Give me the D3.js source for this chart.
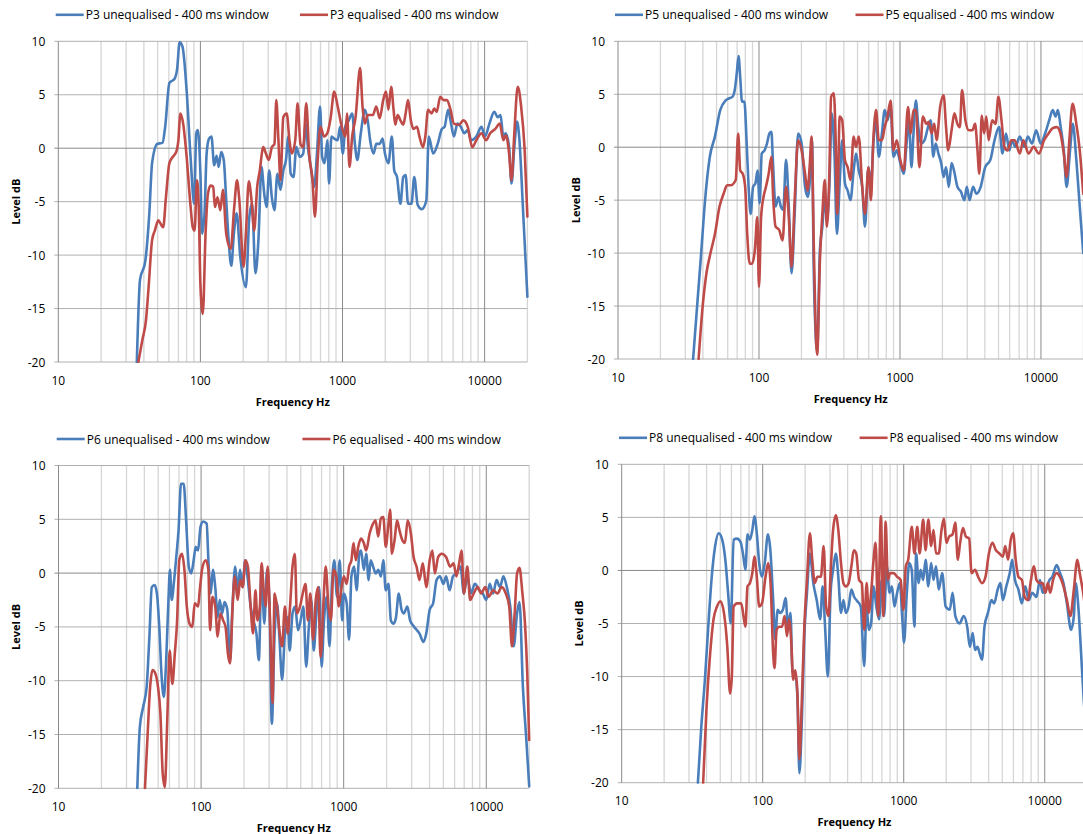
<!DOCTYPE html>
<html><head><meta charset="utf-8">
<script src="https://cdn.jsdelivr.net/npm/d3@7"></script>
<style>
body{margin:0;background:#fff}
svg{display:block}
text{font-family:'Open Sans',sans-serif;fill:#000}
</style>
</head><body>
<svg id="chart" width="1083" height="834"></svg>
<script>
// ---------- tick labels ----------
const xTickValues = [10, 100, 1000, 10000];
const yTickValues = [10, 5, 0, -5, -10, -15, -20];
const xAxisTitle = "Frequency Hz";
const yAxisTitle = "Level dB";

// ---------- series names ----------
const seriesNames = [
  ["P3 unequalised - 400 ms window", "P3 equalised - 400 ms window"],
  ["P5 unequalised - 400 ms window", "P5 equalised - 400 ms window"],
  ["P6 unequalised - 400 ms window", "P6 equalised - 400 ms window"],
  ["P8 unequalised - 400 ms window", "P8 equalised - 400 ms window"]
];

// ---------- data: [frequency Hz, level dB] ----------
const p3Unequalised = [[35.7,-20],[37.6,-12.3],[40.9,-10.6],[43.7,-6.1],[45.7,-1.4],[49.7,0.4],[54.1,0.5],[56.5,2.0],[60.5,6.1],[65.8,6.5],[68.4,7.3],[71.5,9.9],[74.8,9.5],[80,5.4],[85.5,-1.1],[90.4,-5.2],[93.5,1.4],[96.1,1.7],[100,-2.4],[102.8,-8],[106.9,-6.1],[110.6,-0.5],[115,0.9],[119.6,1.1],[125,-1.6],[130,-0.7],[134.5,-1.75],[140,-0.35],[146,-1.1],[152,-4.9],[158,-8.6],[165,-11],[172,-8],[180,-6.1],[190,-9.9],[209,-13],[221,-6.4],[231,-5.2],[244,-11.7],[256,-8.6],[269,-1.75],[281,-4.2],[292,-5.5],[305,-2.1],[318,-4.6],[332,-5.8],[348,-2.4],[366,-3.9],[383,-2.1],[400,-1.1],[416,1.1],[432,-2.4],[452,-2.7],[473,0.1],[500,-0.8],[529,-0.5],[550,2.3],[571,0.1],[598,-1.75],[632,-3.6],[661,-0.5],[695,3.9],[719,-0.8],[748,-1.4],[782,0.75],[804,-3.3],[836,1.1],[874,0.9],[925,0.75],[961,2],[1005,-0.5],[1045,2],[1106,2.6],[1170,3.25],[1222,0.4],[1271,-1.1],[1345,1.4],[1438,3.6],[1504,2.6],[1564,0.75],[1653,-0.5],[1728,0.4],[1828,0.4],[1913,0.9],[1989,-0.5],[2103,-1.4],[2224,1.1],[2313,-2.1],[2418,-2.7],[2556,-5.2],[2674,-2.7],[2780,-2.5],[2891,-5.2],[3057,-5.2],[3198,-2.7],[3381,-5.3],[3614,-5.7],[3888,-4.9],[4043,1.1],[4345,-0.5],[4675,0.4],[5000,1.8],[5228,2],[5532,3.6],[5753,2.6],[6083,1.1],[6433,2.3],[6802,2],[7193,1.4],[7606,1.7],[8043,0.75],[8745,1.1],[9508,2],[10050,1.1],[10810,2.3],[11690,3.4],[12360,2.9],[12940,3.1],[13530,1.1],[14070,1.4],[14870,0.1],[15460,-3.3],[16180,0.1],[16910,2.5],[17580,0.75],[18590,-5.5],[20000,-13.9]];
const p3Equalised = [[36.6,-20],[39.1,-17.9],[41.4,-16.1],[43.2,-13],[45.7,-8.6],[47.8,-7.7],[50.6,-6.75],[52.6,-7.1],[54.7,-7.4],[57.2,-4.6],[60.5,-1.4],[64,-0.8],[67.6,-0.35],[70,0.75],[72.3,3.25],[75.6,2.3],[80,-0.8],[84.6,-4.9],[88.4,-7.4],[91,-7.7],[94.6,-3],[97.3,-5.5],[100,-12.7],[104,-15.5],[108.7,-8],[113,-4.25],[118,-3.5],[123,-3.6],[126.5,-5.5],[132,-4.6],[138,-5.8],[144,-3.9],[152,-8],[163.5,-9.4],[173,-5.5],[181,-3],[188,-4.9],[201,-11.1],[209,-8],[219,-3.1],[229,-4.9],[239,-7.7],[251,-3.6],[261,-2.2],[277,0.1],[289,-0.5],[303,-1.1],[318,0.1],[332,0.4],[342,4.5],[354,0.75],[366,-3],[383,2.9],[405,3.25],[423,0.75],[440,-0.5],[465,0.75],[483,4.2],[506,0.4],[529,0.1],[556,4.2],[582,-0.5],[615,-3],[640,-6.4],[669,-1.1],[700,2],[740,1.1],[782,1.4],[826,2.9],[874,5.3],[925,3.9],[989,2],[1045,1.1],[1076,3.25],[1119,-1.75],[1170,1.1],[1236,2.9],[1330,7.5],[1383,3.9],[1438,2.3],[1504,3.1],[1636,3.1],[1728,3.9],[1828,2.8],[1933,4.5],[2023,5.3],[2103,3.6],[2200,5.75],[2287,3.6],[2351,2.2],[2445,3.1],[2556,2.6],[2674,2.2],[2780,3.25],[2891,4.5],[3026,2.6],[3162,1.8],[3343,2],[3477,1.1],[3680,0.1],[3826,1.1],[4000,3.6],[4230,3.25],[4426,3.7],[4603,3.4],[4866,4.8],[5144,4.5],[5438,4.5],[5753,3.6],[6083,2.3],[6607,2.2],[7079,2.6],[7606,2],[8185,0.1],[8745,0.75],[9508,1.4],[10230,0.75],[10940,1.4],[11890,1.8],[12790,2.3],[13530,0.75],[14130,1.2],[14870,-0.5],[15460,-3],[16180,1.4],[17100,5.75],[18070,3.9],[19140,-0.2],[20000,-6.4]];

const p5Unequalised = [[34.1,-20],[36.7,-14.4],[38.9,-10],[41.1,-5.6],[44.8,-0.9],[48.7,1],[53.1,3.5],[57.8,4.4],[61.1,4.6],[64.7,4.75],[67.3,5.4],[69.6,7],[71.6,8.6],[73.6,6.6],[75.8,4.3],[78.8,4.3],[81.6,0.66],[84.4,-3.75],[87.3,-6.3],[90.8,-3.75],[94.4,-3.4],[97.7,-2.2],[101.1,-5.3],[104.6,-0.6],[109.5,-0.3],[114,0.35],[118.6,1.3],[122.5,1.45],[125.4,-1.2],[131.2,-5.6],[137.3,-4.7],[142.9,-5.6],[148.6,-5.9],[155.6,-1.2],[162.7,-5.6],[170.3,-11.9],[179.1,-6.3],[189.5,1.3],[200.6,0.35],[212.2,-3.75],[222,-4.7],[231,-2.5],[237.6,0.66],[244.4,-11.3],[251,-17],[258.6,-19.2],[270.5,-9.7],[281.5,-7.5],[293,-4.7],[303,-6.9],[315.6,-3.75],[328,3.2],[343,-0.6],[357,-8.2],[373.6,-3.4],[389,0.66],[407,-3.4],[425.6,-4.1],[445.6,-5],[469,-2.2],[487.8,-0.6],[510.4,-2.2],[540,-3.75],[564.6,-7.5],[597.5,-1.9],[622,-3.75],[647,0.35],[676.6,2.55],[707.6,-0.9],[744.7,1.3],[779.3,3.5],[816,2.55],[859,3.8],[898,-0.9],[950,-0.3],[1005,-1.5],[1064,-2.5],[1114,0.35],[1159,2.55],[1206,-1.9],[1247,1.3],[1297,4.4],[1349,1.9],[1412,0.35],[1494,0.66],[1581,1.9],[1654,2.55],[1722,-0.9],[1791,0.35],[1874,-0.6],[1960,-1.5],[2041,-2.8],[2123,-1.9],[2220,-3.75],[2323,-1.5],[2416,-2.2],[2556,-3.75],[2706,-4.2],[2864,-5],[2979,-3.75],[3117,-5],[3298,-3.75],[3490,-4.4],[3735,-3.75],[4018,-1.9],[4375,-1.2],[4686,0.66],[5044,1.9],[5337,-0.6],[5648,1.3],[5972,-0.3],[6223,0.66],[6579,0.03],[7079,1],[7621,0.03],[8072,1],[8637,0.35],[9247,1.6],[9954,0.35],[10700,1.3],[11450,2.55],[12130,3.5],[12690,2.9],[13190,3.5],[13800,1.9],[14520,-0.3],[15200,-3.75],[16080,-0.3],[16830,2.2],[17820,-1.2],[18840,-5.6],[19950,-10]];
const p5Equalised = [[37.3,-20],[40,-14.8],[42.4,-11.9],[45.3,-10],[48.7,-8.2],[52.5,-5.6],[56.1,-4.4],[59.4,-3.6],[62.9,-3.6],[68.4,-3.1],[71.2,1.3],[73.6,-2.2],[76.7,-2.5],[79.8,-3.75],[82.5,-8.2],[85.9,-11],[89.4,-11],[93.5,-9.7],[97.3,-6.6],[100,-13.2],[103.5,-6.6],[107.7,-4.7],[112,-3.75],[117.2,-2.5],[122.5,-0.9],[126,-4.7],[131.2,-7.5],[139,-7.8],[147,-8.8],[155.6,-3.75],[162.7,-6.6],[170.3,-11.3],[179.1,-5],[189.5,0.66],[200.6,-0.3],[212.2,-2.5],[220.8,-4.1],[228.6,-1.9],[236,1],[244.4,-8.8],[251,-16],[258.6,-19.6],[270.5,-10.7],[281.5,-6.3],[293,-3.1],[303,-7.5],[315.6,-2.5],[324.6,4.75],[339.6,5.1],[349,1.3],[359,-6.3],[373.6,2.9],[389,2.55],[407,-1.2],[425.6,-1.9],[445.6,-3.1],[469,1],[487.8,0.03],[510.4,1],[540,-3.75],[564.6,-6.3],[597.5,-1.9],[622,-5],[647,0.66],[676.6,3.5],[707.6,0.66],[744.7,0.66],[779.3,1.9],[816,2.9],[859,4.4],[898,-0.3],[950,0.66],[1005,-1.2],[1064,-2.2],[1140,3.8],[1191,1.3],[1247,3.5],[1297,3.5],[1374,-1.9],[1453,2.9],[1538,2.2],[1600,2.4],[1675,1.3],[1750,2.2],[1820,0.66],[1927,3.8],[2041,4.9],[2123,1.9],[2198,-0.3],[2323,1.6],[2432,3.2],[2556,2.2],[2661,1.9],[2754,5.4],[2911,2.55],[3083,1.6],[3265,1.6],[3412,2.2],[3532,0.03],[3656,-2.5],[3802,3],[3954,1.3],[4093,2.9],[4257,0.66],[4506,2.55],[4767,2.2],[4989,4.75],[5248,2.55],[5495,0.03],[5808,-0.3],[6152,0.66],[6506,0.66],[7079,-0.6],[7500,0.66],[8166,-0.6],[8872,0.03],[9660,-0.6],[10520,0.66],[11320,1.3],[12130,1.8],[12970,1.9],[13740,1.3],[14520,-0.6],[15200,-2.8],[15900,0.66],[16750,4.1],[17820,2.2],[18840,-0.3],[19950,-4.4]];

const p6Unequalised = [[35.7,-20],[37.2,-14.3],[39.3,-12.4],[41.5,-10.6],[43.4,-5.9],[45.1,-1.3],[47.2,-1.1],[49,-1.9],[50.9,-5],[52.7,-9.3],[54.8,-11.5],[56.9,-8.1],[58.9,-2.8],[60.5,0.3],[62.2,-2.5],[64.7,-0.65],[67.3,1.8],[69.5,4],[72.3,8.3],[75.5,8.3],[78.5,4.9],[82,0.6],[85.3,-0.03],[88.7,1.2],[91.7,2.45],[95.3,2.1],[99.1,4.3],[103.5,4.8],[109.4,4.6],[112.5,1.2],[116.9,-1.9],[120.9,0.3],[125.7,-1.3],[130.6,-4.1],[135.1,-2.5],[140.4,-3.75],[145.9,-2.7],[152.6,-3.4],[159.6,-8.1],[166,-3.1],[173.5,0.6],[180.3,-1.6],[187.5,0.3],[195.8,-1.3],[203.6,1.2],[212.9,-0.65],[222.5,-3.1],[232.5,-4.4],[244.3,-5.6],[254.1,-8.1],[265.6,0.6],[277.5,-4.7],[290.2,0.3],[301.6,-2.8],[313.4,-14],[327.8,-5.6],[340.8,-2.8],[354,-5.9],[370,-9.9],[387,-5.6],[404.5,-4.1],[418,-7.2],[437.5,-3.75],[457,-3.1],[478,-5.3],[499,-4.4],[522,-3.1],[545.5,-8.7],[570,-5],[593,-2.5],[616,-7.2],[644,-3.75],[673.6,-1.3],[700,-8.7],[727.6,-4.4],[760.6,-2.2],[795,-6.8],[826,-1.3],[859,1.2],[898,-2.2],[939,1.2],[975.6,-4.4],[1003,-1.9],[1050,-2.8],[1091,-6.2],[1133,-0.3],[1185,0.6],[1231,-1.6],[1288,1.8],[1324,2.1],[1384,0.3],[1439,1.8],[1496,-0.65],[1546,1.2],[1608,0.6],[1680,-0.03],[1746,0.3],[1825,-0.3],[1897,1.2],[1972,-1.6],[2061,-1],[2142,-4.4],[2240,-4.7],[2328,-4.1],[2434,-1.9],[2546,-3.4],[2644,-3.75],[2794,-3.1],[2923,-4.4],[3124,-5],[3397,-5.6],[3632,-6.4],[3796,-5.6],[4011,-3.4],[4240,-2.8],[4480,-0.65],[4735,-0.3],[5003,-1],[5228,-0.3],[5524,-1.6],[5840,-0.3],[6170,-0.03],[6590,0.6],[6966,-1.9],[7362,-0.3],[7796,-1.9],[8322,-1],[8950,-1.6],[9460,-1.9],[10000,-2.5],[10570,-1],[11170,-1.9],[11800,-0.65],[12480,-1.3],[13190,-0.3],[13930,-1.3],[14730,-3.1],[15560,-6.8],[16440,-3.75],[17100,-2.7],[18070,-10.6],[19100,-15.5],[20000,-19.8]];
const p6Equalised = [[40.4,-20],[42.2,-14.9],[43.9,-10.6],[45.6,-9],[47.7,-9.3],[49.9,-10.6],[51.8,-13],[53.8,-18.6],[55.7,-19.9],[57.9,-13.7],[60.2,-7.2],[62.9,-10.3],[65.4,-7.5],[67.9,-4.4],[70.3,1.2],[73.5,1.8],[76.4,0.3],[79.4,-3.1],[83,-4.7],[86.8,-5],[90.2,-2.8],[95.3,-3.1],[97.9,-1.6],[102.4,0.6],[108.2,1.2],[112.5,0.3],[115.6,-5.3],[120.2,-2.2],[125.7,-3.1],[130.6,-5.9],[136.5,-3.75],[142.8,-4.4],[148.5,-5],[154.3,-7.5],[159.6,-8.4],[166,-3.4],[172.3,-0.3],[180.3,-2.5],[188.4,-0.65],[195.8,-1.3],[204.6,1.2],[212.9,0.6],[222.5,-3.1],[231.4,-5.6],[240.6,-1.6],[248.5,-4.4],[258.4,-3.1],[265.6,0.9],[274.8,-1.6],[283.9,-3.1],[293.4,0.6],[304.8,-4.7],[316.9,-12.1],[327.8,-1.9],[340.8,-3.1],[354,-5.3],[370,-6.8],[387,-3.1],[404.5,-5.6],[420.7,-3.1],[437.5,0.6],[454.4,1.8],[469.5,-3.75],[494,-3.1],[516.4,-1.9],[540,-1],[561,-4.4],[583.6,-1.9],[610,-6.2],[637,-2.5],[662,-1.3],[688.5,-7.8],[719,-3.1],[748,0.6],[782,-3.1],[813,-4.4],[849,0.3],[888,-0.3],[923,-3.1],[960,-1.6],[1003,-0.3],[1050,-1],[1091,0.6],[1133,1.2],[1172,2.8],[1218,1.2],[1265,2.45],[1324,3.2],[1384,2.8],[1439,2.1],[1521,3.7],[1608,4.6],[1671,4.9],[1746,3.4],[1825,5.1],[1897,5.2],[1972,2.45],[2061,4.6],[2118,5.9],[2177,1.8],[2276,3.1],[2366,4.9],[2460,4],[2572,3.1],[2689,2.8],[2811,4.9],[2958,3.7],[3092,1.5],[3246,0.6],[3397,-0.65],[3589,0.9],[3796,-1.3],[4011,1.2],[4190,2.1],[4355,-0.03],[4603,1.5],[4866,1.8],[5228,1.5],[5585,0.6],[5902,0.9],[6170,-0.3],[6450,0.9],[6714,2.1],[6966,-1.9],[7362,0.6],[7707,-2.5],[8147,-1.9],[8710,-1.3],[9204,-1.9],[9840,-1.3],[10400,-2.2],[11170,-1.6],[11990,-1.9],[12830,-1.3],[13710,-1.9],[14490,-3.1],[15140,-6.8],[15820,-3.75],[16440,-0.03],[17100,0.5],[17900,-1.8],[18670,-4.6],[19380,-9.3],[20000,-15.5]];

const p8Unequalised = [[34.7,-20],[36.7,-14.7],[38.9,-10.3],[41.1,-5.3],[43.5,-0.6],[46,2.3],[48.7,3.5],[51.6,2.9],[54.6,0.7],[56.8,-2.1],[59.4,-5],[62.2,2.9],[65.8,3],[69.6,2.7],[72.4,1.6],[75.4,0.06],[78,3.4],[81.1,2.9],[84.4,3.8],[87.3,5.1],[90.8,3.5],[94.4,0.7],[98.8,-0.6],[103.4,0.7],[108.9,3.4],[113.3,1.9],[118.6,-2.8],[122.5,-6.5],[127.6,-3.7],[132.7,-4],[139,-3.7],[145.3,-2.6],[151.1,-5.3],[157.4,-4],[162.7,-9.6],[169.4,-9.6],[176.2,-11.9],[182,-19.1],[189.5,-14.1],[197.2,-6.2],[206,-2.1],[216,1.6],[228.4,-1.2],[241.6,-2.8],[255.6,-4.6],[266,-1.5],[276.8,-5.3],[289.6,-10],[303,-2.1],[315.5,0.06],[330,1.6],[343.6,-0.6],[359,-4],[373.5,-2.8],[388.8,-4],[406.6,-3.4],[425.4,-1.8],[445.4,-2.5],[468.8,-2.9],[495.6,-3.4],[524.5,-9],[545.5,-3.4],[564.6,-5.6],[587.2,-5],[611,-1.5],[639.6,-3.4],[669.4,-4.6],[696.6,-0.9],[724.4,-4.3],[758.6,0.4],[793,-2.1],[824.5,-1.5],[859,-3.4],[898,-2.1],[939,-1.2],[977,-4.6],[1005,-6.8],[1052,-2.1],[1094,0.7],[1140,0.06],[1191,-5.3],[1225,1.6],[1276,-1.2],[1318,0.06],[1374,-0.9],[1429,1],[1494,-1.5],[1564,0.7],[1626,-0.9],[1694,0.4],[1771,-1.8],[1874,-0.25],[1983,-3.4],[2123,-3.7],[2220,-2.1],[2323,-4.3],[2489,-5],[2661,-4.3],[2818,-5.3],[2944,-7.2],[3083,-5.9],[3206,-7.5],[3336,-7.2],[3451,-7.8],[3592,-8.4],[3738,-5.3],[3954,-4],[4188,-2.8],[4380,-3.1],[4635,-1.8],[4850,-1.2],[5044,-2.8],[5337,-1.5],[5648,-0.25],[5875,1],[6150,-0.9],[6506,-1.8],[6887,-3.1],[7278,-1.5],[7707,-2.8],[8147,-2.1],[8730,-2.5],[9247,-0.9],[9660,-2.1],[10230,-1.8],[10820,-0.9],[11320,-0.6],[12130,0.5],[12830,-0.25],[13580,-1.2],[14350,-3.1],[15380,-5.6],[16080,-4.3],[16560,-1.2],[17300,-3.4],[18000,-7.2],[18840,-11.9],[20000,-16]];
const p8Equalised = [[37.8,-20],[40,-12.8],[42.4,-7.8],[44.8,-4.6],[47.4,-3.4],[50.1,-2.9],[53.1,-4],[56.1,-7.2],[58.7,-11.6],[60.4,-10],[62.2,-3.4],[65.8,-3.1],[70.4,-3.1],[73.6,-4.6],[75.4,-5.3],[78,-1.5],[81.1,-1.2],[84.4,-0.25],[87.3,1.3],[90.8,-0.6],[94.4,-3.4],[98.8,-3.1],[104.7,-0.6],[109.4,0.7],[114,-1.5],[118.6,-7.8],[121.3,-9.2],[125.4,-5.6],[131.2,-5.3],[137.3,-5.3],[142.9,-4.3],[148.6,-6.2],[153.8,-4.6],[159,-6.5],[164.4,-10.3],[170.3,-9.4],[176.2,-11.6],[182,-17.8],[189.5,-12.2],[197.2,-5.3],[206,-0.9],[216,3.5],[224.5,1],[233.7,-1.2],[244.4,-0.6],[258.6,-0.6],[270.5,2.3],[281.5,-3.4],[293,-4.3],[303,-0.25],[315.5,3.8],[330,5.2],[343.6,3.8],[359,0.7],[373.5,-1.2],[388.8,-1.5],[406.6,-1.2],[425.4,0.4],[442.6,1.9],[460.4,1.6],[482,-0.9],[504.6,-1.2],[524.5,-5.6],[545.5,-1.2],[564.6,-4],[587.2,-2.1],[611,1],[632,2.6],[657.6,-4.3],[688.6,5.1],[716,-4.3],[744.7,4.6],[770.8,-0.9],[802,-0.25],[849,-0.25],[898,-0.6],[950,-0.9],[995,-3.7],[1035,0.4],[1076,1],[1140,4.1],[1191,1.6],[1247,4.1],[1297,1.6],[1374,4.8],[1429,1.9],[1494,4.8],[1564,2.3],[1626,3.8],[1694,1.6],[1771,1.6],[1853,3.8],[1927,4.9],[2005,2.6],[2099,3.2],[2220,3.4],[2323,4.5],[2416,1],[2512,2.6],[2630,4],[2754,3.2],[2911,3],[3028,-0.25],[3206,0.06],[3371,-0.6],[3592,-1.2],[3800,-0.6],[4018,1.6],[4256,2.6],[4506,1.9],[4767,1.6],[5044,1.3],[5248,2.3],[5495,1],[5741,2.9],[5972,3.5],[6223,1],[6506,-0.6],[6887,-0.9],[7200,-2.5],[7621,-2.8],[7925,-1.2],[8395,0.4],[8730,-0.9],[9247,-1.2],[9660,-1.2],[10110,-2.1],[10520,-1.2],[10940,-2.1],[11450,-0.9],[12130,-0.25],[12830,-0.6],[13580,-1.5],[14350,-2.8],[15200,-4.3],[16080,-1.8],[17020,1],[17700,-0.25],[18720,-2.1],[19800,-4.6],[20000,-5]];

const panelSeries = [
  [p3Unequalised, p3Equalised],
  [p5Unequalised, p5Equalised],
  [p6Unequalised, p6Equalised],
  [p8Unequalised, p8Equalised]
];

// ---------- layout (pixels) ----------
const layout = [
  {x0: 58.3, x1: 527.4, yTop: 41.3, yBot: 362.0, leg: [55.7, 300.0]},
  {x0: 618.0, x1: 1083.4, yTop: 41.3, yBot: 359.0, leg: [615.0, 855.5]},
  {x0: 58.5, x1: 529.2, yTop: 465.5, yBot: 788.3, leg: [56.7, 302.4]},
  {x0: 621.7, x1: 1087.2, yTop: 464.3, yBot: 782.7, leg: [619.0, 859.6]}
];
const colors = ["#4a7ebb", "#be4b48"];

const svg = d3.select("#chart");
const minorFreqs = [];
[10, 100, 1000, 10000].forEach(d => { for (let k = 2; k <= 9; k++) if (d * k <= 20000) minorFreqs.push(d * k); });

layout.forEach((L, i) => {
  const x = d3.scaleLog().domain([10, 20000]).range([L.x0, L.x1]);
  const y = d3.scaleLinear().domain([-20, 10]).range([L.yBot, L.yTop]);
  const g = svg.append("g");

  // minor vertical gridlines
  g.selectAll(".minor").data(minorFreqs).join("line")
    .attr("x1", d => x(d)).attr("x2", d => x(d))
    .attr("y1", L.yTop).attr("y2", L.yBot)
    .attr("stroke", "#d6d6d6").attr("stroke-width", 1.3);
  // horizontal gridlines
  g.selectAll(".hgrid").data(yTickValues).join("line")
    .attr("x1", L.x0 - 4).attr("x2", L.x1)
    .attr("y1", d => y(d)).attr("y2", d => y(d))
    .attr("stroke", d => d === 0 ? "#8a8a8a" : "#b0b0b0").attr("stroke-width", 1);
  // major vertical gridlines
  g.selectAll(".major").data(xTickValues).join("line")
    .attr("x1", d => x(d)).attr("x2", d => x(d))
    .attr("y1", L.yTop).attr("y2", L.yBot)
    .attr("stroke", "#8a8a8a").attr("stroke-width", 1);

  // y tick labels
  g.selectAll(".ylab").data(yTickValues).join("text")
    .attr("x", L.x0 - 13).attr("y", d => y(d))
    .attr("text-anchor", "end").attr("dominant-baseline", "central")
    .attr("font-size", 12).text(d => d);
  // x tick labels
  g.selectAll(".xlab").data(xTickValues).join("text")
    .attr("x", d => x(d)).attr("y", L.yBot + 18)
    .attr("text-anchor", "middle").attr("dominant-baseline", "central")
    .attr("font-size", 12).text(d => d);

  // axis titles
  g.append("text")
    .attr("x", (L.x0 + L.x1) / 2).attr("y", L.yBot + 39)
    .attr("text-anchor", "middle").attr("dominant-baseline", "central")
    .attr("font-size", 11).attr("font-weight", "bold").text(xAxisTitle);
  g.append("text")
    .attr("transform", `translate(${L.x0 - 43},${(L.yTop + L.yBot) / 2}) rotate(-90)`)
    .attr("text-anchor", "middle").attr("dominant-baseline", "central")
    .attr("font-size", 11).attr("font-weight", "bold").text(yAxisTitle);

  // clip
  const clipId = "clip" + i;
  svg.append("clipPath").attr("id", clipId).append("rect")
    .attr("x", L.x0).attr("y", L.yTop - 3)
    .attr("width", L.x1 - L.x0 + 3).attr("height", L.yBot - L.yTop + 4);

  const line = d3.line().x(d => x(d[0])).y(d => y(d[1])).curve(d3.curveMonotoneX);
  panelSeries[i].forEach((s, j) => {
    g.append("path").datum(s)
      .attr("clip-path", `url(#${clipId})`)
      .attr("d", line).attr("fill", "none")
      .attr("stroke", colors[j]).attr("stroke-width", 2.6)
      .attr("stroke-linejoin", "round").attr("stroke-linecap", "round");
  });

  // legend
  const ly = L.yTop - 26.5;
  seriesNames[i].forEach((name, j) => {
    const lx = L.leg[j];
    g.append("line").attr("x1", lx).attr("x2", lx + 28).attr("y1", ly).attr("y2", ly)
      .attr("stroke", colors[j]).attr("stroke-width", 2.6);
    g.append("text").attr("x", lx + 30).attr("y", ly)
      .attr("dominant-baseline", "central").attr("font-size", 12).text(name);
  });
});
</script>
</body></html>
